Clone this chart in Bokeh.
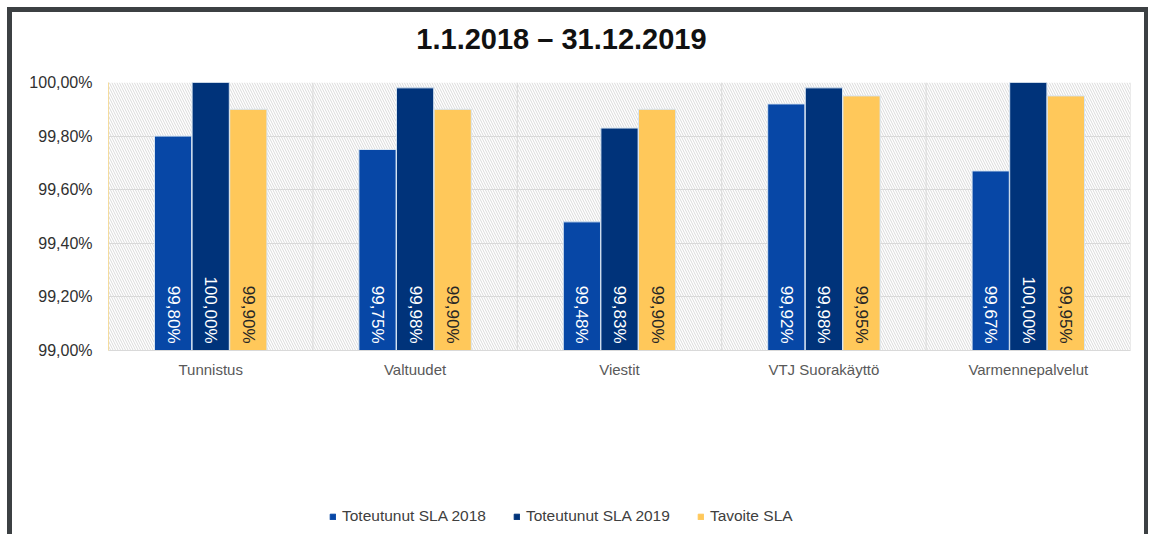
import math
from bokeh.plotting import figure
from bokeh.layouts import column
from bokeh.models import (ColumnDataSource, FactorRange, Range1d, FixedTicker, Span,
                          BoxAnnotation, Legend, LegendItem, Label)
from bokeh.transform import dodge
from bokeh.core.properties import value
from bokeh.embed import file_html
from bokeh.resources import INLINE

title_text = "1.1.2018  \u2013 31.12.2019"
categories = ["Tunnistus", "Valtuudet", "Viestit", "VTJ Suorak\u00e4ytt\u00f6", "Varmennepalvelut"]
sla_2018 = [99.80, 99.75, 99.48, 99.92, 99.67]
sla_2019 = [100.00, 99.98, 99.83, 99.98, 100.00]
target_sla = [99.90, 99.90, 99.90, 99.95, 99.95]
series_names = ["Toteutunut SLA 2018", "Toteutunut SLA 2019", "Tavoite SLA"]
y_ticks = [99.0, 99.2, 99.4, 99.6, 99.8, 100.0]
y_tick_labels = ["99,00%", "99,20%", "99,40%", "99,60%", "99,80%", "100,00%"]
y_min, y_max = 99.0, 100.0

def fmt(v):
    return f"{v:.2f}".replace(".", ",") + "%"

src = ColumnDataSource(dict(
    x=categories,
    s2018=sla_2018, s2019=sla_2019, tgt=target_sla,
    l2018=[fmt(v) for v in sla_2018],
    l2019=[fmt(v) for v in sla_2019],
    ltgt=[fmt(v) for v in target_sla],
    base=[y_min] * len(categories),
))

FONT = "Liberation Sans"
colors = ["#0747A6", "#00337A", "#FFC85A"]
text_colors = ["white", "white", "#262626"]
cols = ["s2018", "s2019", "tgt"]
lcols = ["l2018", "l2019", "ltgt"]
offsets = [-0.184, 0.0, 0.184]
W = 1132

def strip(height):
    f = figure(width=W, height=height, x_range=FactorRange(*categories),
               y_range=Range1d(0, 1), output_backend="svg", toolbar_location=None,
               x_axis_location=None, y_axis_location=None,
               min_border_left=0, min_border_right=0, min_border_top=0, min_border_bottom=0)
    f.outline_line_color = None
    f.grid.visible = False
    f.background_fill_color = "white"
    f.border_fill_color = "white"
    return f

# ---------------- title strip ----------------
head = strip(50)
head.add_layout(Label(x=457, y=23.5, x_units="screen", y_units="screen", text=title_text,
                      text_align="center", text_baseline="middle", text_font=FONT,
                      text_font_size="29px", text_font_style="bold", text_color="#111111"))

# ---------------- main chart ----------------
fig = figure(width=W, height=338, x_range=FactorRange(*categories, range_padding=0),
             y_range=Range1d(y_min, y_max), output_backend="svg", toolbar_location=None,
             min_border_left=96, min_border_right=14, min_border_top=20, min_border_bottom=50)
fig.outline_line_color = None
fig.background_fill_color = "white"
fig.border_fill_color = "white"

fig.add_layout(BoxAnnotation(fill_color="white", fill_alpha=1, line_color=None,
                             hatch_pattern="left_diagonal_line", hatch_color="#dadada",
                             hatch_scale=5, hatch_weight=1, level="image"))
for i in range(len(categories) + 1):
    fig.add_layout(Span(location=i, dimension="height", line_color="#d9d9d9",
                        line_width=1, level="underlay"))

for c, lc, off, col, tcol in zip(cols, lcols, offsets, colors, text_colors):
    fig.vbar(x=dodge("x", off, range=fig.x_range), top=c, bottom="base", width=0.182,
             source=src, fill_color=col, line_color="#d6e4f2", line_width=1)
    fig.text(x=dodge("x", off, range=fig.x_range), y="base", text=lc, source=src,
             angle=-math.pi / 2, text_align="right", text_baseline="middle", y_offset=-7,
             text_color=tcol, text_font=value(FONT), text_font_size="17px")

fig.yaxis.ticker = FixedTicker(ticks=y_ticks)
fig.yaxis.major_label_overrides = dict(zip(y_ticks, y_tick_labels))
fig.yaxis.major_tick_line_color = None
fig.yaxis.major_tick_out = 0
fig.yaxis.minor_tick_line_color = None
fig.yaxis.axis_line_color = "#f5dc9e"
fig.yaxis.major_label_text_font = FONT
fig.yaxis.major_label_text_font_size = "16px"
fig.yaxis.major_label_text_color = "#303030"
fig.yaxis.major_label_standoff = 16

fig.xaxis.major_tick_line_color = None
fig.xaxis.major_tick_out = 0
fig.xaxis.axis_line_color = "#d9d9d9"
fig.xaxis.major_label_text_font = FONT
fig.xaxis.major_label_text_font_size = "15px"
fig.xaxis.major_label_text_color = "#595959"
fig.xaxis.major_label_standoff = 10

fig.xgrid.visible = False
fig.ygrid.grid_line_color = "#d9d9d9"

# ---------------- legend strip ----------------
leg = strip(134)
leg_renderers = []
for c, off, col in zip(cols, offsets, colors):
    # same series, hidden here: only their legend swatches are shown
    r = leg.vbar(x=dodge("x", off, range=leg.x_range), top=c, bottom="base", width=0.182,
                 source=src, fill_color=col, line_color=col, line_width=1, visible=False)
    leg_renderers.append(r)

legend = Legend(items=[LegendItem(label=n, renderers=[r]) for n, r in zip(series_names, leg_renderers)],
                orientation="horizontal", location=(221, 9))
legend.border_line_color = None
legend.background_fill_alpha = 0
legend.padding = 0
legend.margin = 0
legend.glyph_width = 7
legend.glyph_height = 7
legend.label_standoff = 6
legend.spacing = 27
legend.label_text_font = FONT
legend.label_text_font_size = "15.5px"
legend.label_text_color = "#404040"
leg.add_layout(legend, "center")

# dark frame around the chart (top, left and right sides)
p = column(head, fig, leg, spacing=0,
           styles={"margin-left": "7px", "margin-top": "7px",
                   "border-left": "5px solid #3c4043", "border-top": "5px solid #3c4043",
                   "border-right": "4px solid #3c4043"})

open("out.html", "w").write(file_html(p, INLINE))
